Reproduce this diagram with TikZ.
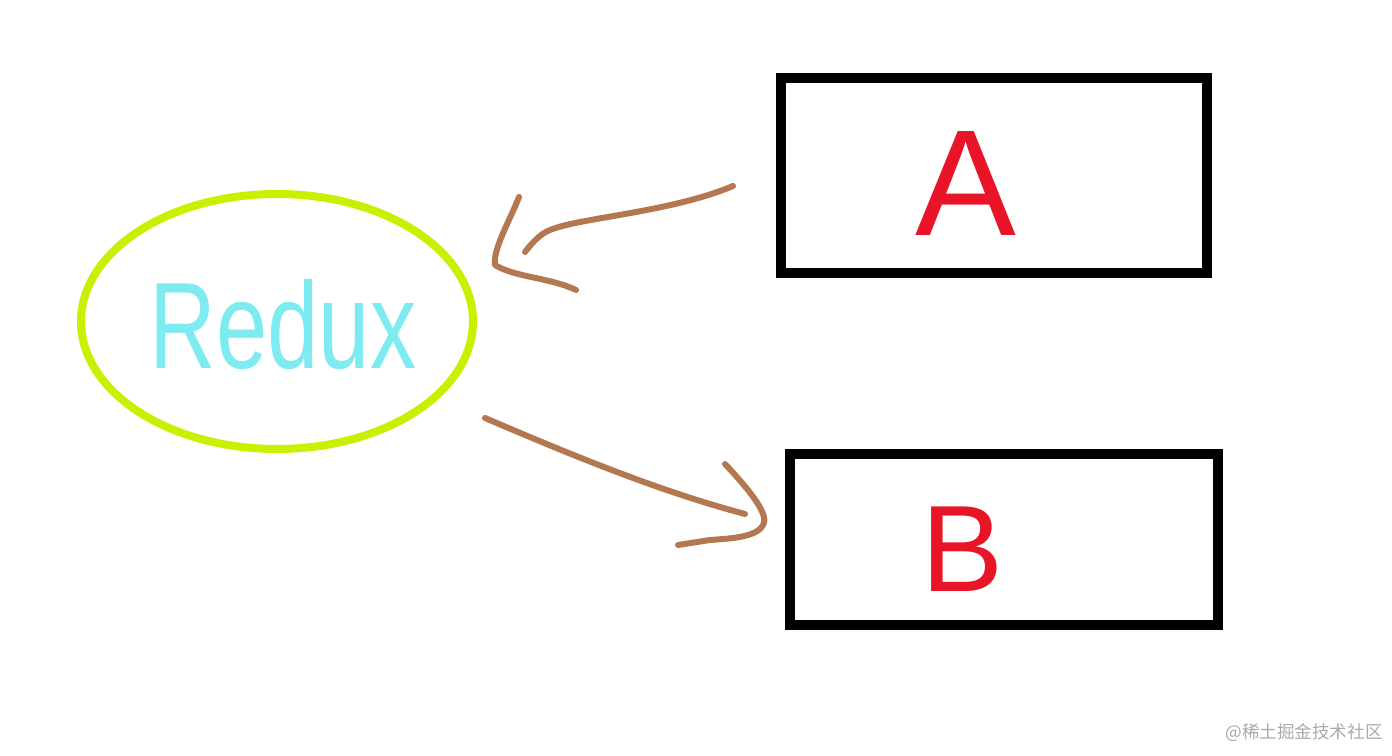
\documentclass[tikz,border=0pt]{standalone}
\usepackage{fontspec}
\setmainfont{Liberation Sans}
\newfontfamily\cjkfont{Noto Sans CJK SC}
\usetikzlibrary{shapes.geometric}

\definecolor{storegreen}{RGB}{200,240,0}
\definecolor{storecyan}{RGB}{125,235,240}
\definecolor{letterred}{RGB}{232,20,40}
\definecolor{flowbrown}{RGB}{180,120,80}
\definecolor{markgray}{RGB}{170,170,170}

\tikzset{
  compbox/.style={draw=black, line width=0.2cm, inner sep=0pt, outer sep=0pt},
  letter/.style={text=letterred, inner sep=0pt},
  flow/.style={draw=flowbrown, line width=0.12cm, line cap=round, line join=round}
}

\begin{document}
\begin{tikzpicture}
        \useasboundingbox (0,0) rectangle (27.84,15.1);

        % Redux store
        \node (store) [ellipse, draw=storegreen, line width=0.16cm, minimum width=7.84cm, minimum height=5.1cm] at (5.54,8.67) {};
        \node (storelbl) [text=storecyan, xscale=0.75, inner sep=0pt] at (5.66,8.6) {\fontsize{70}{70}\selectfont Redux};

        % Components
        \node (compA) [compbox, minimum width=8.52cm, minimum height=3.9cm] at (19.88,11.59) {};
        \node (lblA) [letter] at (19.32,11.42) {\fontsize{86}{86}\selectfont A};
        \node (compB) [compbox, minimum width=8.56cm, minimum height=3.42cm] at (20.08,4.31) {};
        \node (lblB) [letter] at (19.26,4.12) {\fontsize{70}{70}\selectfont B};

        % Arrow ends
        \coordinate (aFrom) at (14.66,11.38);
        \coordinate (aTo) at (10.5,10.06);
        \coordinate (bFrom) at (9.7,6.74);
        \coordinate (bTo) at (14.9,4.82);

        % A to store
        \draw[flow] (aFrom) .. controls (13.4,10.85) and (11.6,10.75) .. (11.0,10.5) .. controls (10.8,10.42) and (10.65,10.25) .. (aTo);
        \draw[flow] (10.38,11.16) .. controls (10.2,10.7) and (9.85,10.1) .. (9.9,9.8) .. controls (10.3,9.55) and (11.0,9.55) .. (11.52,9.3);

        % store to B
        \draw[flow] (bFrom) .. controls (11.43,6.0) and (13.17,5.28) .. (bTo);
        \draw[flow] (14.5,5.82) .. controls (14.8,5.5) and (15.35,4.9) .. (15.28,4.65) .. controls (15.2,4.35) and (14.6,4.33) .. (14.2,4.3) -- (13.56,4.2);

        % Watermark
        \node (mark) [text=markgray, inner sep=0pt] at (26.08,0.44) {\cjkfont\fontsize{10}{10}\selectfont @稀土掘金技术社区};
\end{tikzpicture}
\end{document}
